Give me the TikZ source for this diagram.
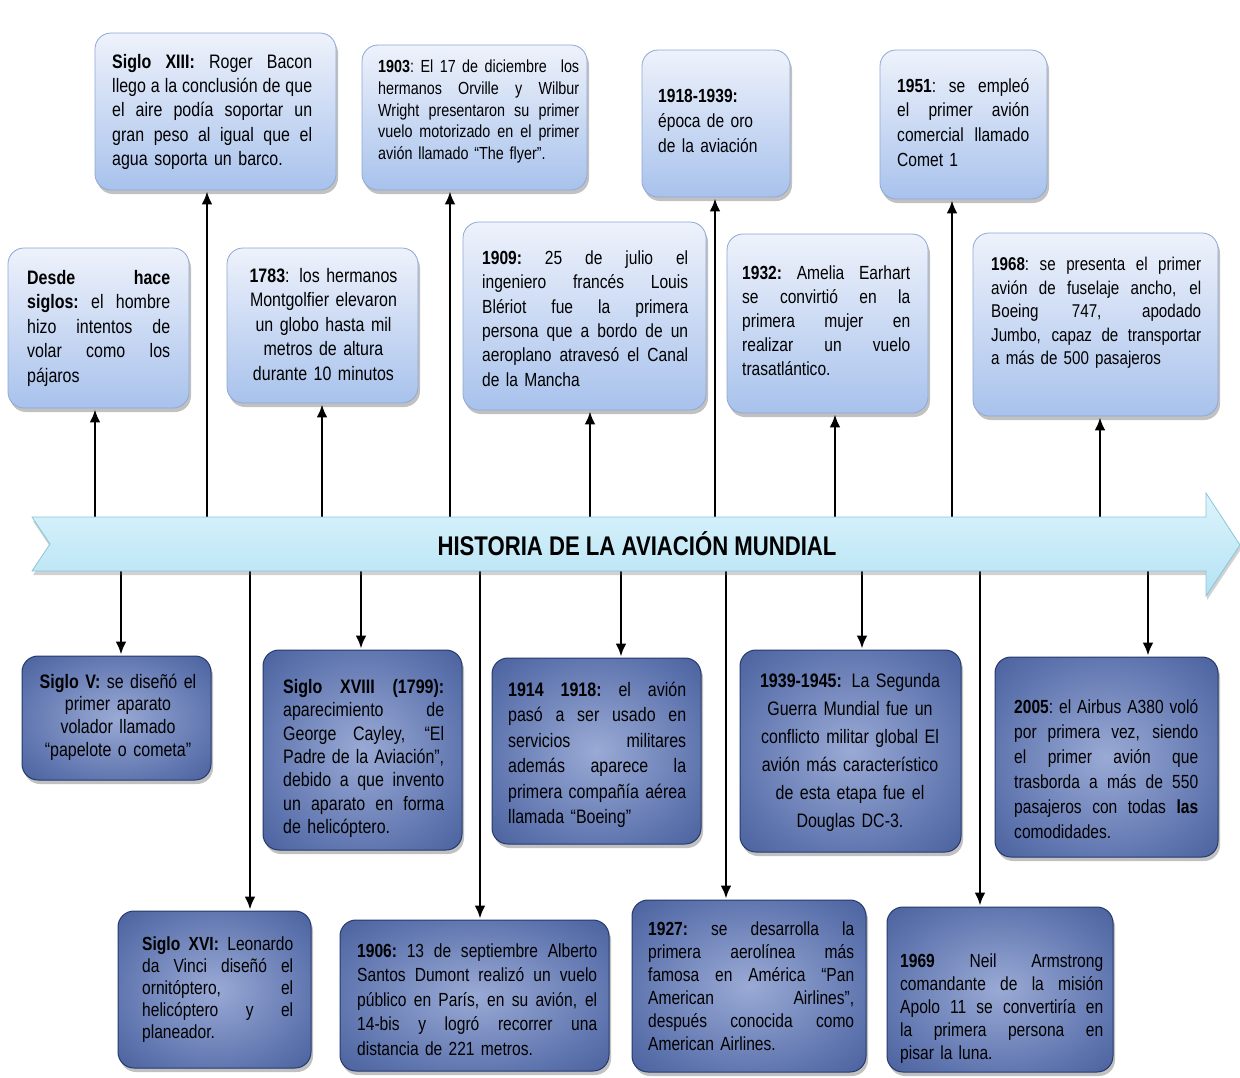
\documentclass[tikz,border=0pt]{standalone}
\usepackage{fontspec}
\setmainfont{Liberation Sans}[FakeStretch=0.82]
\usetikzlibrary{arrows.meta,shadows}

\definecolor{ltop}{HTML}{EEF2FB}
\definecolor{lbot}{HTML}{A8C2EC}
\definecolor{lbord}{HTML}{8EA8D4}
\definecolor{dinner}{HTML}{9AAAD5}
\definecolor{dmid}{HTML}{5E74AE}
\definecolor{douter}{HTML}{2A4283}
\definecolor{dbord}{HTML}{24386A}
\definecolor{axtop}{HTML}{DDF4FC}
\definecolor{axbot}{HTML}{B4E2F4}
\definecolor{axbord}{HTML}{8CC4D8}

\pgfdeclareradialshading{dshade}{\pgfpoint{0bp}{0bp}}{color(0bp)=(dinner); color(26bp)=(dmid); color(52bp)=(douter); color(72bp)=(douter)}

% font size / line spacing
\newcommand\fsz[2]{\fontsize{#1pt}{#2pt}\selectfont}
% one justified line, stretched to the full text width
\newcommand\jl[1]{\noindent\hbox to \hsize{\spaceskip=0.25em plus 1fil\relax
  \xspaceskip=0.25em plus 1fil\relax #1}}

\begin{document}
\begin{tikzpicture}[x=1pt,y=-1pt,
  boxshadow/.style={drop shadow={shadow xshift=2pt,shadow yshift=-4pt,fill=black!70,opacity=0.35}},
  lbox/.style={rectangle,rounded corners=16pt,draw=lbord,line width=0.8pt,
    top color=ltop,bottom color=lbot,boxshadow},
  dbox/.style={rectangle,rounded corners=16pt,draw=dbord,line width=1pt,
    shade,shading=dshade,boxshadow},
  txt/.style={inner sep=0pt,anchor=north west,align=left,text=black,
    execute at begin node=\strut},
  ctxt/.style={inner sep=0pt,anchor=north,align=center,text=black,
    execute at begin node=\strut},
  arr/.style={line width=2.8pt,-{Latex[length=13pt,width=11pt]},shorten >=1pt},
  axisst/.style={draw=axbord,line width=0.8pt,top color=axtop,bottom color=axbot,
    drop shadow={shadow xshift=1pt,shadow yshift=-4pt,fill=black!60,opacity=0.3}}
]
\useasboundingbox (0,0) rectangle (1240,1077);

% ---------- upper boxes ----------
\node[lbox,minimum width=241pt,minimum height=157pt] (b1) at (215.5,111.5) {};
\node[txt,text width=200pt,font=\fsz{19.5}{24.3}] (b1t) at (112,51)
 {\jl{\textbf{Siglo XIII:} Roger Bacon}\\
  \jl{llego a la conclusión de que}\\
  \jl{el aire podía soportar un}\\
  \jl{gran peso al igual que el}\\
  agua soporta un barco.};

\node[lbox,minimum width=225pt,minimum height=145pt] (b2) at (474.5,117.5) {};
\node[txt,text width=201pt,font=\fsz{17.5}{21.7}] (b2t) at (378,57.5)
 {\jl{\textbf{1903}: El 17 de diciembre\hskip 0.8em los}\\
  \jl{hermanos Orville y Wilbur}\\
  \jl{Wright presentaron su primer}\\
  \jl{vuelo motorizado en el primer}\\
  avión llamado “The flyer”.};

\node[lbox,minimum width=148pt,minimum height=147pt] (b3) at (716,123.5) {};
\node[txt,text width=110pt,font=\fsz{19}{25}] (b3t) at (658,85)
 {\textbf{1918-1939:}\\ época de oro\\ de la aviación};

\node[lbox,minimum width=167pt,minimum height=149pt] (b4) at (963.5,124.5) {};
\node[txt,text width=132pt,font=\fsz{19}{24.8}] (b4t) at (897,74.5)
 {\jl{\textbf{1951}: se empleó}\\
  \jl{el primer avión}\\
  \jl{comercial llamado}\\
  Comet 1};

\node[lbox,minimum width=181pt,minimum height=160pt] (b5) at (98.5,328) {};
\node[txt,text width=143pt,font=\fsz{19.5}{24.5}] (b5t) at (27,267)
 {\jl{\textbf{Desde hace}}\\
  \jl{\textbf{siglos:} el hombre}\\
  \jl{hizo intentos de}\\
  \jl{volar como los}\\
  pájaros};

\node[lbox,minimum width=191pt,minimum height=155pt] (b6) at (322.5,325.5) {};
\node[ctxt,text width=160pt,font=\fsz{19.5}{24.5}] (b6t) at (323.5,265)
 {\textbf{1783}: los hermanos\\ Montgolfier elevaron\\ un globo hasta mil\\ metros de altura\\ durante 10 minutos};

\node[lbox,minimum width=243pt,minimum height=188pt] (b7) at (584.5,316) {};
\node[txt,text width=206pt,font=\fsz{19}{24.4}] (b7t) at (482,247)
 {\jl{\textbf{1909:} 25 de julio el}\\
  \jl{ingeniero francés Louis}\\
  \jl{Blériot fue la primera}\\
  \jl{persona que a bordo de un}\\
  \jl{aeroplano atravesó el Canal}\\
  de la Mancha};

\node[lbox,minimum width=201pt,minimum height=179pt] (b8) at (827.5,323.5) {};
\node[txt,text width=168pt,font=\fsz{19}{24}] (b8t) at (742,262)
 {\jl{\textbf{1932:} Amelia Earhart}\\
  \jl{se convirtió en la}\\
  \jl{primera mujer en}\\
  \jl{realizar un vuelo}\\
  trasatlántico.};

\node[lbox,minimum width=245pt,minimum height=183pt] (b9) at (1095.5,324.5) {};
\node[txt,text width=210pt,font=\fsz{18.5}{23.5}] (b9t) at (991,254)
 {\jl{\textbf{1968}: se presenta el primer}\\
  \jl{avión de fuselaje ancho, el}\\
  \jl{Boeing 747, apodado}\\
  \jl{Jumbo, capaz de transportar}\\
  a más de 500 pasajeros};

% ---------- lower boxes ----------
\node[dbox,minimum width=189pt,minimum height=124pt] (b10) at (116.5,718) {};
\node[ctxt,text width=170pt,font=\fsz{19.5}{22.7}] (b10t) at (118,672)
 {\textbf{Siglo V:} se diseñó el\\ primer aparato\\ volador llamado\\ “papelote o cometa”};

\node[dbox,minimum width=199pt,minimum height=200pt] (b11) at (362.5,750) {};
\node[txt,text width=161pt,font=\fsz{19.5}{23.3}] (b11t) at (283,677)
 {\jl{\textbf{Siglo XVIII (1799):}}\\
  \jl{aparecimiento de}\\
  \jl{George Cayley, “El}\\
  \jl{Padre de la Aviación”,}\\
  \jl{debido a que invento}\\
  \jl{un aparato en forma}\\
  de helicóptero.};

\node[dbox,minimum width=209pt,minimum height=186pt] (b12) at (596.5,751) {};
\node[txt,text width=178pt,font=\fsz{19.5}{25.5}] (b12t) at (508,678)
 {\jl{\textbf{1914 1918:} el avión}\\
  \jl{pasó a ser usado en}\\
  \jl{servicios militares}\\
  \jl{además aparece la}\\
  \jl{primera compañía aérea}\\
  llamada “Boeing”};

\node[dbox,minimum width=221pt,minimum height=202pt] (b13) at (850.5,751) {};
\node[ctxt,text width=200pt,font=\fsz{19.5}{28}] (b13t) at (850,667.5)
 {\textbf{1939-1945:} La Segunda\\ Guerra Mundial fue un\\ conflicto militar global El\\ avión más característico\\ de esta etapa fue el\\ Douglas DC-3.};

\node[dbox,minimum width=223pt,minimum height=200pt] (b14) at (1106.5,757) {};
\node[txt,text width=184pt,font=\fsz{19}{25}] (b14t) at (1014,695.5)
 {\jl{\textbf{2005}: el Airbus A380 voló}\\
  \jl{por primera vez, siendo}\\
  \jl{el primer avión que}\\
  \jl{trasborda a más de 550}\\
  \jl{pasajeros con todas \textbf{las}}\\
  comodidades.};

\node[dbox,minimum width=193pt,minimum height=157pt] (b15) at (214.5,989.5) {};
\node[txt,text width=151pt,font=\fsz{19}{22}] (b15t) at (142,934.5)
 {\jl{\textbf{Siglo XVI:} Leonardo}\\
  \jl{da Vinci diseñó el}\\
  \jl{ornitóptero, el}\\
  \jl{helicóptero y el}\\
  planeador.};

\node[dbox,minimum width=269pt,minimum height=151pt] (b16) at (474.5,995.5) {};
\node[txt,text width=240pt,font=\fsz{19}{24.5}] (b16t) at (357,940)
 {\jl{\textbf{1906:} 13 de septiembre Alberto}\\
  \jl{Santos Dumont realizó un vuelo}\\
  \jl{público en París, en su avión, el}\\
  \jl{14-bis y logró recorrer una}\\
  distancia de 221 metros.};

\node[dbox,minimum width=234pt,minimum height=172pt] (b17) at (749,986) {};
\node[txt,text width=206pt,font=\fsz{19}{23}] (b17t) at (648,919)
 {\jl{\textbf{1927:} se desarrolla la}\\
  \jl{primera aerolínea más}\\
  \jl{famosa en América “Pan}\\
  \jl{American Airlines”,}\\
  \jl{después conocida como}\\
  American Airlines.};

\node[dbox,minimum width=226pt,minimum height=165pt] (b18) at (1000,989.5) {};
\node[txt,text width=203pt,font=\fsz{19}{23}] (b18t) at (900,951)
 {\jl{\textbf{1969} Neil Armstrong}\\
  \jl{comandante de la misión}\\
  \jl{Apolo 11 se convertiría en}\\
  \jl{la primera persona en}\\
  pisar la luna.};

% ---------- connector start points on the time line ----------
\foreach \n/\x in {5/95,1/207,6/322,2/450,7/590,3/715,8/835,4/952,9/1100}
  \coordinate (u\n) at (\x,519);
\foreach \n/\x in {10/121,15/250,11/361,16/480,12/621,17/726,13/862,18/980,14/1148}
  \coordinate (d\n) at (\x,569);

\foreach \n in {1,...,9}
  \draw[arr] (u\n) -- (u\n |- b\n.south);
\foreach \n in {10,...,18}
  \draw[arr] (d\n) -- (d\n |- b\n.north);

% ---------- the time line arrow ----------
\path[axisst] (32,517) -- (1206,517) -- (1206,493) -- (1240,545)
  -- (1206,596) -- (1206,571) -- (32,571) -- (50,544) -- cycle;
\node[font=\fsz{27}{30}\bfseries,inner sep=0pt] (title) at (637,544)
  {HISTORIA DE LA AVIACIÓN MUNDIAL};
\end{tikzpicture}
\end{document}
